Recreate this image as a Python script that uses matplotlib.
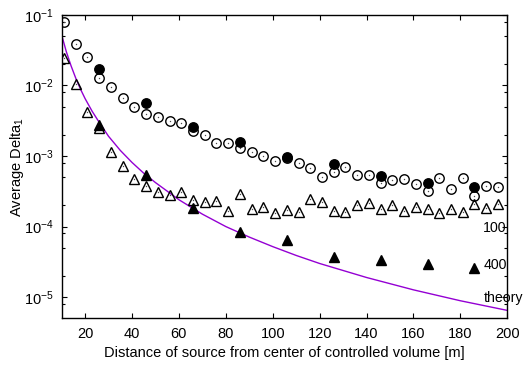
import numpy as np
import matplotlib
matplotlib.use("Agg")
import matplotlib.pyplot as plt
from matplotlib.ticker import FixedLocator

plt.rcParams['font.family'] = ['Liberation Sans', 'DejaVu Sans']
plt.rcParams['mathtext.fontset'] = 'custom'
plt.rcParams['mathtext.rm'] = 'Liberation Sans'
plt.rcParams['mathtext.it'] = 'Liberation Sans:italic'
plt.rcParams['font.size'] = 10.5

# open circles (all distances)
circ_x = [11, 16, 21, 26, 31, 36, 41, 46, 51, 56, 61, 66, 71, 76, 81, 86, 91, 96, 101,
          106, 111, 116, 121, 126, 131, 136, 141, 146, 151, 156, 161, 166, 171, 176,
          181, 186, 191, 196]
circ_y = [0.079, 0.0382, 0.025, 0.0129, 0.0095, 0.0067, 0.0050, 0.0039, 0.00353, 0.0031,
          0.0029, 0.00226, 0.00196, 0.00151, 0.00151, 0.00131, 0.00115, 0.00101, 0.00086,
          0.00093, 0.00079, 0.00067, 0.00051, 0.00059, 0.00070, 0.00053, 0.00053, 0.00041,
          0.00046, 0.00047, 0.00040, 0.00032, 0.00049, 0.00034, 0.00048, 0.00027, 0.00038,
          0.00036]

# filled circles
fcirc_x = [26, 46, 66, 86, 106, 126, 146, 166, 186]
fcirc_y = [0.0169, 0.0056, 0.0026, 0.00156, 0.00097, 0.00076, 0.00052, 0.00041, 0.00036]

# open triangles
tri_x = circ_x
tri_y = [0.0242, 0.0105, 0.0042, 0.0025, 0.00115, 0.00073, 0.00047, 0.00037, 0.00031,
         0.00028, 0.00031, 0.00024, 0.00022, 0.000233, 0.000168, 0.000286, 0.000176,
         0.000191, 0.000154, 0.000172, 0.000163, 0.000244, 0.000225, 0.000166, 0.000159,
         0.00020, 0.000218, 0.000176, 0.000202, 0.000166, 0.000189, 0.000178, 0.000154,
         0.000178, 0.000163, 0.000209, 0.000182, 0.000211]

# filled triangles
ftri_x = [26, 46, 66, 86, 106, 126, 146, 166, 186]
ftri_y = [0.0027, 0.00054, 0.000182, 0.0000848, 0.0000646, 0.0000375, 0.0000337,
          0.0000292, 0.0000257]

# theory curve
theo_x = [10, 12, 14, 16, 18, 20, 23, 26, 30, 35, 40, 45, 50, 60, 70, 80, 90, 100,
          110, 120, 140, 160, 180, 200]
theo_y = [0.052, 0.030, 0.019, 0.0127, 0.0089, 0.0065, 0.0043, 0.0030, 0.0019, 0.0012,
          0.00081, 0.00057, 0.00042, 0.00024, 0.00015, 0.0001, 7.1e-5, 5.2e-5, 3.9e-5,
          3.0e-5, 1.9e-5, 1.27e-5, 8.9e-6, 6.5e-6]

xticks = [20, 40, 60, 80, 100, 120, 140, 160, 180, 200]

fig = plt.figure(figsize=(5.23, 3.68), dpi=100)
ax = fig.add_axes([0.1178, 0.135, 0.8522, 0.825])

ax.plot(theo_x, theo_y, color='#9400d3', lw=1.0, zorder=2)
ax.plot(circ_x, circ_y, 'o', ms=6.8, mfc='none', mec='black', mew=1.0, zorder=3)
ax.plot(tri_x, tri_y, '^', ms=7.3, mfc='none', mec='black', mew=1.0, zorder=3)
ax.plot(fcirc_x, fcirc_y, 'o', ms=6.8, mfc='black', mec='black', zorder=4)
ax.plot(ftri_x, ftri_y, '^', ms=7.3, mfc='black', mec='black', zorder=4)
# tiny centre dots of the open markers
ax.plot(circ_x, circ_y, 'o', ms=1.0, color='0.3', mew=0, zorder=3)
ax.plot(tri_x, tri_y, 'o', ms=1.0, color='0.3', mew=0, zorder=3)

ax.set_yscale('log')
ax.set_xlim(10, 200)
ax.set_ylim(5.02e-6, 0.1)
ax.set_xticks(xticks)
ax.yaxis.set_minor_locator(FixedLocator(
    [m * 10.0 ** e for e in range(-6, -1) for m in (2, 5, 8)]))
ax.yaxis.set_minor_formatter(plt.NullFormatter())

ax.tick_params(which='both', direction='in', top=True, right=True, labelsize=10.5)
ax.tick_params(which='major', length=3.5, width=0.8, pad=6)
ax.tick_params(which='minor', length=2, width=0.8)
for s in ax.spines.values():
    s.set_linewidth(1.0)

ax.set_xlabel('Distance of source from center of controlled volume [m]', labelpad=4)
ax.set_ylabel(r'Average Delta$_\mathdefault{1}$', labelpad=-1.5)

for txt, yy in [('100', 0.296), ('400', 0.176), ('theory', 0.066)]:
    ax.text(0.946, yy, txt, transform=ax.transAxes, ha='left', va='center',
            fontsize=10.2, clip_on=False, zorder=1)

fig.savefig('out.png', dpi=100)
